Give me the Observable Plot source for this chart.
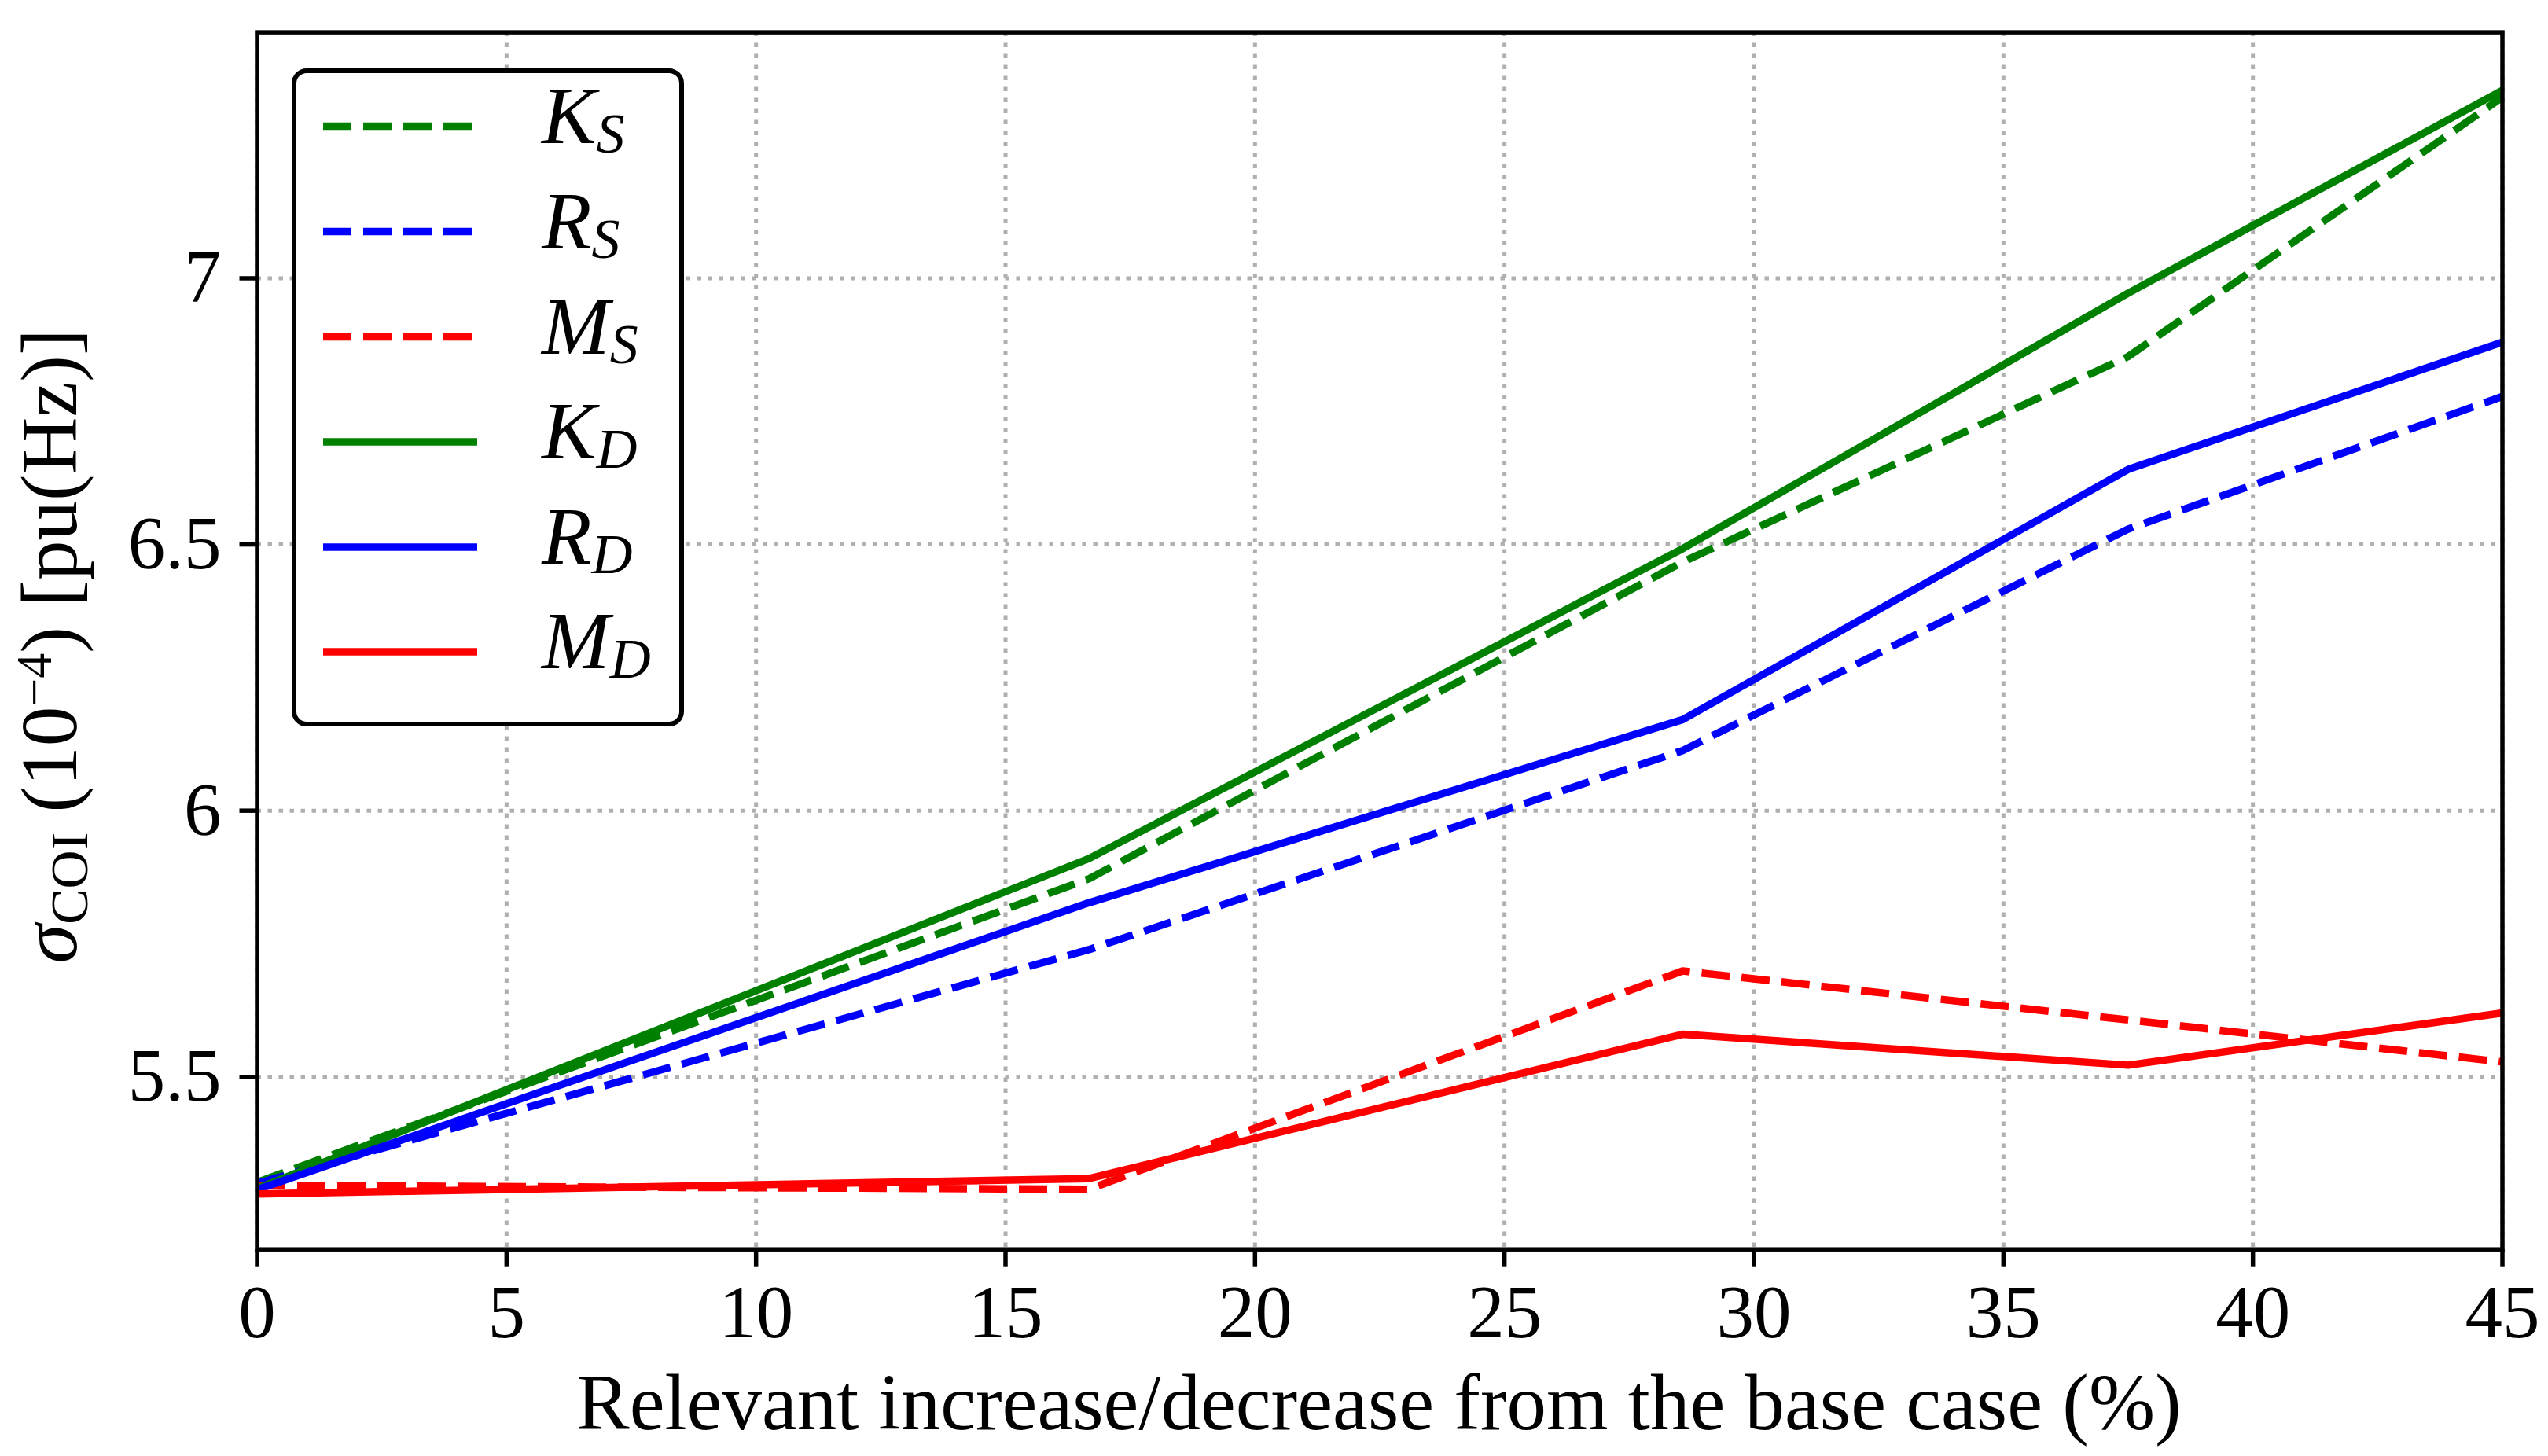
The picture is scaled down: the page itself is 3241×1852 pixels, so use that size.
<!DOCTYPE html>
<html><head><meta charset="utf-8">
<script src="https://cdn.jsdelivr.net/npm/d3@7"></script>
<script src="https://cdn.jsdelivr.net/npm/@observablehq/plot@0.6"></script>
<style>html,body{margin:0;padding:0;background:#fff;} svg{display:block}</style>
</head><body><div id="chart"></div>
<script>
// ---- data ----
const xValues = [0, 16.67, 28.57, 37.5, 45];
const K_S = [5.302, 5.872, 6.467, 6.853, 7.340];
const R_S = [5.300, 5.739, 6.113, 6.529, 6.778];
const M_S = [5.296, 5.289, 5.699, 5.607, 5.528];
const K_D = [5.290, 5.910, 6.492, 6.972, 7.353];
const R_D = [5.288, 5.827, 6.171, 6.641, 6.880];
const M_D = [5.280, 5.309, 5.580, 5.522, 5.620];
const seriesKeys = ["K_S", "R_S", "M_S", "K_D", "R_D", "M_D"];
const seriesBase = ["K", "R", "M", "K", "R", "M"];
const seriesSub = ["S", "S", "S", "D", "D", "D"];
const seriesValues = [K_S, R_S, M_S, K_D, R_D, M_D];
const seriesColors = ["#008000", "#0000ff", "#ff0000", "#008000", "#0000ff", "#ff0000"];
const seriesDashed = [true, true, true, false, false, false];
const xTicks = [0, 5, 10, 15, 20, 25, 30, 35, 40, 45];
const yTicks = [5.5, 6, 6.5, 7];
const xLabel = "Relevant increase/decrease from the base case (%)";

// ---- layout ----
const W = 3241, H = 1852;
const FONT = "Liberation Serif, 'DejaVu Serif', serif";
const LW = 9.5, DASH = "36,15";

const rows = seriesKeys.flatMap((k, si) =>
  xValues.map((x, i) => ({series: k, x, y: seriesValues[si][i]})));

const lineMarks = seriesKeys.map((k, si) =>
  Plot.line(rows.filter(d => d.series === k), {
    x: "x", y: "y", stroke: seriesColors[si], strokeWidth: LW,
    strokeDasharray: seriesDashed[si] ? DASH : null,
    strokeLinecap: "butt", strokeLinejoin: "round"
  }));

const svg = Plot.plot({
  width: W, height: H,
  marginLeft: 326.5, marginRight: 58.5, marginTop: 40.6, marginBottom: 263.3,
  style: {fontFamily: FONT, background: "#fff", color: "#000"},
  x: {domain: [0, 45]},
  y: {domain: [5.176, 7.462]},
  marks: [
    Plot.gridX(xTicks, {stroke: "#b0b0b0", strokeOpacity: 1, strokeWidth: 5, strokeDasharray: "5.5,8.5"}),
    Plot.gridY(yTicks, {stroke: "#b0b0b0", strokeOpacity: 1, strokeWidth: 5, strokeDasharray: "5.5,8.5"}),
    ...lineMarks,
    Plot.frame({stroke: "#000", strokeWidth: 5.5}),
    Plot.axisX(xTicks, {tickSize: 22, tickPadding: 22, strokeWidth: 5.5, fontSize: 95, label: null, tickFormat: d => String(d)}),
    Plot.axisY(yTicks, {tickSize: 22, tickPadding: 23.5, strokeWidth: 5.5, fontSize: 95, label: null, tickFormat: d => String(d)})
  ]
});
document.getElementById("chart").appendChild(svg);

const s = d3.select(svg);
// x label
s.append("text").attr("x", 1754).attr("y", 1818).attr("text-anchor", "middle")
  .attr("font-size", 101).attr("font-family", FONT).attr("fill", "#000").text(xLabel);
// y label
const yl = s.append("text").attr("transform", "translate(97,822) rotate(-90)")
  .attr("text-anchor", "middle").attr("font-size", 101).attr("font-family", FONT).attr("fill", "#000");
yl.append("tspan").attr("font-style", "italic").text("σ");
yl.append("tspan").attr("font-size", 68).attr("dy", 14).text("COI");
yl.append("tspan").attr("dy", -14).text(" (10");
yl.append("tspan").attr("font-size", 64).attr("dy", -32).text("−4");
yl.append("tspan").attr("dy", 32).text(") [pu(Hz)]");

// legend
const lg = s.append("g");
lg.append("rect").attr("x", 374).attr("y", 90).attr("width", 493).attr("height", 831)
  .attr("rx", 16).attr("fill", "#fff").attr("stroke", "#000").attr("stroke-width", 6);
const rowY = [160.6, 294.5, 428.5, 562, 696, 829];
seriesKeys.forEach((k, i) => {
  lg.append("line").attr("x1", 411).attr("x2", 607).attr("y1", rowY[i]).attr("y2", rowY[i])
    .attr("stroke", seriesColors[i]).attr("stroke-width", LW)
    .attr("stroke-dasharray", seriesDashed[i] ? DASH : null);
  const t = lg.append("text").attr("x", 689).attr("y", rowY[i] + 21).attr("text-anchor", "start")
    .attr("font-size", 104).attr("font-family", FONT).attr("font-style", "italic").attr("fill", "#000");
  t.append("tspan").text(seriesBase[i]);
  t.append("tspan").attr("font-size", 72).attr("dy", 12).text(seriesSub[i]);
});
</script></body></html>
